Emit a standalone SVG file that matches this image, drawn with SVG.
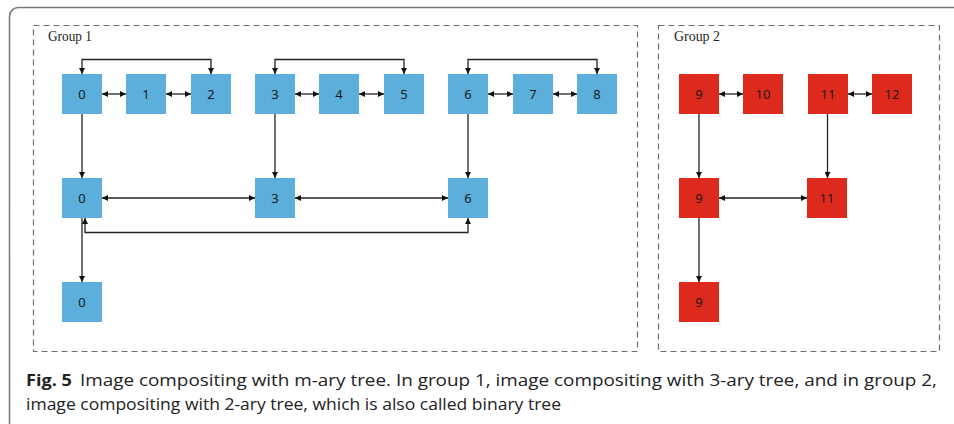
<svg xmlns="http://www.w3.org/2000/svg" width="954" height="424" viewBox="0 0 954 424">
<style>
.frame{fill:none;stroke:#7a7a7a;stroke-width:1.5}
.grp{fill:none;stroke:#6e6e6e;stroke-width:1.2;stroke-dasharray:6 4}
.glabel{font-family:"Liberation Serif",serif;font-size:14px;fill:#222}
.b rect{fill:#5CAFDB}
.r rect{fill:#DE2A1C}
.n text{font-family:"Noto Sans","DejaVu Sans",sans-serif;font-size:13px;fill:#1a1a1a;text-anchor:middle}
.c path{fill:none;stroke:#222;stroke-width:1.3}
.ar{marker-end:url(#ah)}
.ar2{marker-start:url(#ah);marker-end:url(#ah)}
.cap{font-family:"Open Sans","Liberation Sans",sans-serif;font-size:16.5px;fill:#222}
</style>
<defs>
<marker id="ah" viewBox="0 0 6 6" refX="6" refY="3" markerWidth="6" markerHeight="6" markerUnits="userSpaceOnUse" orient="auto-start-reverse">
<path d="M0,0 L6,3 L0,6 Z" fill="#111"/>
</marker>
</defs>
<rect class="frame" x="9.5" y="7.5" width="970" height="440" rx="9"/>
<rect class="grp" x="33.5" y="25.5" width="604" height="326"/>
<rect class="grp" x="658.5" y="25.5" width="281" height="326"/>
<text class="glabel" x="48" y="41" textLength="44" lengthAdjust="spacingAndGlyphs">Group 1</text>
<text class="glabel" x="674" y="41" textLength="46" lengthAdjust="spacingAndGlyphs">Group 2</text>

<g class="c">
<path class="ar2" d="M82,74 V59.5 H211 V74"/>
<path class="ar2" d="M275,74 V59.5 H404 V74"/>
<path class="ar2" d="M468,74 V59.5 H597 V74"/>
<path class="ar2" d="M102,94 H126"/>
<path class="ar2" d="M166,94 H191"/>
<path class="ar2" d="M295,94 H319"/>
<path class="ar2" d="M359,94 H384"/>
<path class="ar2" d="M488,94 H513"/>
<path class="ar2" d="M553,94 H577"/>
<path class="ar" d="M82,114 V178"/>
<path class="ar" d="M275,114 V178"/>
<path class="ar" d="M468,114 V178"/>
<path class="ar2" d="M102,198 H255"/>
<path class="ar2" d="M295,198 H448"/>
<path class="ar2" d="M85,218 V232.5 H468 V218"/>
<path class="ar" d="M82,218 V282"/>
<path class="ar2" d="M719,94 H743"/>
<path class="ar2" d="M848,94 H872"/>
<path class="ar" d="M699,114 V178"/>
<path class="ar" d="M827.5,114 V178"/>
<path class="ar2" d="M719,198 H807"/>
<path class="ar" d="M699,218 V282"/>
</g>

<g id="n0a" class="n b"><rect x="62" y="74" width="40" height="40"/><text x="82" y="98.5">0</text></g>
<g id="n1" class="n b"><rect x="126" y="74" width="40" height="40"/><text x="146" y="98.5">1</text></g>
<g id="n2" class="n b"><rect x="191" y="74" width="40" height="40"/><text x="211" y="98.5">2</text></g>
<g id="n3a" class="n b"><rect x="255" y="74" width="40" height="40"/><text x="275" y="98.5">3</text></g>
<g id="n4" class="n b"><rect x="319" y="74" width="40" height="40"/><text x="339" y="98.5">4</text></g>
<g id="n5" class="n b"><rect x="384" y="74" width="40" height="40"/><text x="404" y="98.5">5</text></g>
<g id="n6a" class="n b"><rect x="448" y="74" width="40" height="40"/><text x="468" y="98.5">6</text></g>
<g id="n7" class="n b"><rect x="513" y="74" width="40" height="40"/><text x="533" y="98.5">7</text></g>
<g id="n8" class="n b"><rect x="577" y="74" width="40" height="40"/><text x="597" y="98.5">8</text></g>
<g id="n0b" class="n b"><rect x="62" y="178" width="40" height="40"/><text x="82" y="202.5">0</text></g>
<g id="n3b" class="n b"><rect x="255" y="178" width="40" height="40"/><text x="275" y="202.5">3</text></g>
<g id="n6b" class="n b"><rect x="448" y="178" width="40" height="40"/><text x="468" y="202.5">6</text></g>
<g id="n0c" class="n b"><rect x="62" y="282" width="40" height="40"/><text x="82" y="306.5">0</text></g>

<g id="n9a" class="n r"><rect x="679" y="74" width="40" height="40"/><text x="699" y="98.5">9</text></g>
<g id="n10" class="n r"><rect x="743" y="74" width="40" height="40"/><text x="763" y="98.5">10</text></g>
<g id="n11a" class="n r"><rect x="808" y="74" width="40" height="40"/><text x="828" y="98.5">11</text></g>
<g id="n12" class="n r"><rect x="872" y="74" width="40" height="40"/><text x="892" y="98.5">12</text></g>
<g id="n9b" class="n r"><rect x="679" y="178" width="40" height="40"/><text x="699" y="202.5">9</text></g>
<g id="n11b" class="n r"><rect x="807" y="178" width="40" height="40"/><text x="827" y="202.5">11</text></g>
<g id="n9c" class="n r"><rect x="679" y="282" width="40" height="40"/><text x="699" y="306.5">9</text></g>

<text class="cap" x="26" y="386" font-weight="bold" textLength="46" lengthAdjust="spacingAndGlyphs">Fig. 5</text>
<text class="cap" x="80" y="386" textLength="857" lengthAdjust="spacingAndGlyphs">Image compositing with m-ary tree. In group 1, image compositing with 3-ary tree, and in group 2,</text>
<text class="cap" x="26" y="410" textLength="535" lengthAdjust="spacingAndGlyphs">image compositing with 2-ary tree, which is also called binary tree</text>
</svg>
